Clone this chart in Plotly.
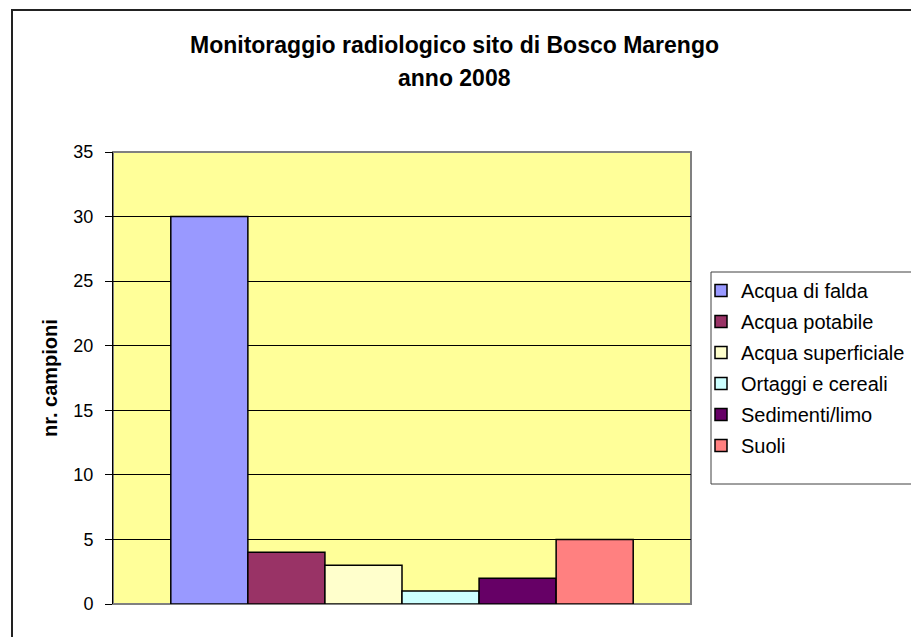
import plotly.graph_objects as go

categories = ["Acqua di falda", "Acqua potabile", "Acqua superficiale",
              "Ortaggi e cereali", "Sedimenti/limo", "Suoli"]
values = [30, 4, 3, 1, 2, 5]
colors = ["#9999FF", "#993366", "#FFFFCC", "#CCFFFF", "#660066", "#FF8080"]
group = ["2008"]
title_lines = ["Monitoraggio radiologico sito di Bosco Marengo", "anno 2008"]
y_title = "nr. campioni"
y_ticks = [0, 5, 10, 15, 20, 25, 30, 35]

W, H = 919, 637
OFF = 8  # page body margin
L, R, T, B = 113 - OFF, 691 - OFF, 152 - OFF, 604 - OFF
pw, ph = R - L, B - T

def px(x):
    return (x - OFF - L) / pw

def py(y):
    return (B - (y - OFF)) / ph

fig = go.Figure()
for i, (name, v, c) in enumerate(zip(categories, values, colors)):
    fig.add_trace(go.Bar(
        x=group, y=[v], name=name, legendgroup=str(i),
        marker=dict(color=c, line=dict(color="black", width=1.5)),
    ))

FONT = "Arial, Liberation Sans, sans-serif"

fig.update_layout(
    width=W, height=H,
    margin=dict(l=L, r=W - R, t=T, b=H - B, autoexpand=False),
    paper_bgcolor="white",
    plot_bgcolor="#FFFF99",
    barmode="group", bargap=0.2, bargroupgap=0,
    font=dict(family=FONT, color="black", size=18),
    showlegend=True,
    legend=dict(
        x=px(701), xanchor="left", y=py(271), yanchor="top",
        bgcolor="rgba(0,0,0,0)", borderwidth=0,
        font=dict(size=20, family=FONT, color="black"),
        traceorder="grouped", tracegroupgap=2,
    ),
    xaxis=dict(showticklabels=False, showgrid=False, zeroline=False,
               showline=False, ticks=""),
    yaxis=dict(range=[0, 35], tickvals=y_ticks, showgrid=True,
               gridcolor="black", gridwidth=1, zeroline=False,
               showline=True, linecolor="black", linewidth=1,
               ticks="outside", ticklen=7, tickcolor="black",
               ticklabelstandoff=8,
               tickfont=dict(size=18, family=FONT, color="black")),
    shapes=[
        dict(type="rect", xref="paper", yref="paper", x0=0, x1=1, y0=0, y1=1,
             line=dict(color="#808080", width=2), layer="below"),
        dict(type="rect", xref="paper", yref="paper",
             x0=px(711), x1=px(916), y0=py(484), y1=py(272),
             line=dict(color="#404040", width=1), fillcolor="white",
             layer="below"),
        dict(type="rect", xref="paper", yref="paper",
             x0=px(12), x1=px(990), y0=py(700), y1=py(10),
             line=dict(color="#222222", width=2), layer="above"),
    ],
    annotations=[
        dict(text="<b>%s</b>" % title_lines[0], xref="paper", yref="paper",
             x=px(454), y=py(45), xanchor="center", yanchor="middle",
             showarrow=False, font=dict(size=23, family=FONT, color="black")),
        dict(text="<b>%s</b>" % title_lines[1], xref="paper", yref="paper",
             x=px(454), y=py(78), xanchor="center", yanchor="middle",
             showarrow=False, font=dict(size=23, family=FONT, color="black")),
        dict(text="<b>%s</b>" % y_title, xref="paper", yref="paper",
             x=px(50), y=0.5, xanchor="center", yanchor="middle",
             textangle=-90, showarrow=False,
             font=dict(size=20, family=FONT, color="black")),
    ],
)

fig.write_html("out.html")
